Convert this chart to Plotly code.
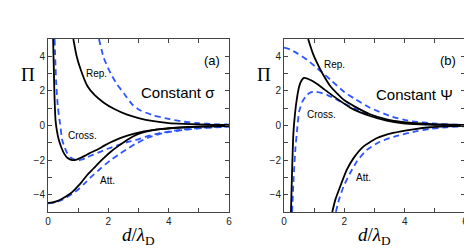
import plotly.graph_objects as go

# ---------------- Panel (a): constant sigma ----------------
a_rep_solid_x = [0.84, 0.95, 1.08, 1.3, 1.55, 1.85, 2.2, 2.6, 3.0, 3.5, 4.0, 4.5, 5.0, 5.5, 6.0]
a_rep_solid_y = [5.0, 4.0, 3.25, 2.3, 1.75, 1.32, 0.95, 0.64, 0.43, 0.25, 0.14, 0.09, 0.06, 0.04, 0.03]
a_rep_dash_x = [1.69, 1.85, 2.08, 2.3, 2.52, 2.8, 3.05, 3.5, 4.0, 4.5, 5.0, 5.5, 6.0]
a_rep_dash_y = [5.0, 3.9, 3.0, 2.35, 1.85, 1.2, 0.88, 0.58, 0.38, 0.22, 0.13, 0.08, 0.05]

a_cross_solid_x = [0.17, 0.21, 0.25, 0.3, 0.36, 0.45, 0.53, 0.65, 0.8, 0.95, 1.1, 1.23, 1.4, 1.63,
                   1.85, 2.08, 2.33, 2.63, 3.0, 3.4, 3.8, 4.3, 5.0, 6.0]
a_cross_solid_y = [5.0, 2.0, 0.3, -0.35, -0.84, -1.3, -1.61, -1.88, -2.0, -1.97, -1.86, -1.74, -1.58, -1.4,
                   -1.18, -0.97, -0.77, -0.58, -0.41, -0.28, -0.19, -0.12, -0.06, -0.02]
a_cross_dash_x = [0.22, 0.27, 0.33, 0.4, 0.47, 0.56, 0.64, 0.75, 0.86, 0.97, 1.1, 1.3, 1.5, 1.75, 2.0,
                  2.3, 2.6, 2.9, 3.3, 3.7, 4.0, 4.5, 5.0, 5.5, 6.0]
a_cross_dash_y = [5.0, 2.5, 1.0, 0.1, -0.84, -1.3, -1.61, -1.85, -1.95, -2.02, -1.98, -1.84, -1.68, -1.51, -1.33,
                  -1.15, -0.98, -0.84, -0.62, -0.44, -0.35, -0.22, -0.14, -0.08, -0.05]

a_att_solid_x = [0, 0.15, 0.3, 0.45, 0.62, 0.8, 0.97, 1.1, 1.3, 1.5, 1.72, 1.9, 2.08, 2.3, 2.55, 2.8,
                 3.02, 3.4, 3.8, 4.3, 5.0, 6.0]
a_att_solid_y = [-4.47, -4.45, -4.37, -4.25, -4.08, -3.85, -3.55, -3.3, -2.86, -2.5, -2.1, -1.8, -1.52, -1.22,
                 -0.92, -0.65, -0.47, -0.3, -0.2, -0.13, -0.07, -0.03]
a_att_dash_x = [0, 0.2, 0.4, 0.6, 0.8, 1.0, 1.2, 1.4, 1.67, 1.9, 2.1, 2.33, 2.6, 2.9, 3.3, 3.71, 4.0,
                4.5, 5.0, 5.5, 6.0]
a_att_dash_y = [-4.5, -4.46, -4.35, -4.17, -3.95, -3.7, -3.37, -3.02, -2.6, -2.25, -1.97, -1.7, -1.38, -1.06,
                -0.72, -0.48, -0.38, -0.26, -0.17, -0.11, -0.07]

# ---------------- Panel (b): constant potential ----------------
b_rep_solid_x = [0.8, 0.95, 1.1, 1.27, 1.55, 1.99, 2.32, 2.85, 3.4, 3.95, 4.5, 5.06, 5.5, 6.0]
b_rep_solid_y = [5.0, 4.2, 3.6, 3.02, 2.24, 1.47, 1.12, 0.65, 0.36, 0.2, 0.12, 0.07, 0.05, 0.03]
b_rep_dash_x = [0, 0.2, 0.44, 0.77, 1.1, 1.55, 1.99, 2.32, 2.85, 3.51, 4.18, 5.06, 5.5, 6.0]
b_rep_dash_y = [4.5, 4.4, 4.17, 3.79, 3.31, 2.63, 1.95, 1.57, 1.03, 0.55, 0.26, 0.1, 0.06, 0.03]

b_cross_solid_x = [0.23, 0.27, 0.31, 0.36, 0.42, 0.5, 0.58, 0.66, 0.75, 0.88, 1.05, 1.22, 1.66, 2.21,
                   2.85, 3.4, 3.95, 4.5, 5.0, 6.0]
b_cross_solid_y = [-5.0, -2.5, -0.5, 0.6, 1.47, 2.24, 2.6, 2.75, 2.73, 2.63, 2.45, 2.24, 1.67, 1.02,
                   0.55, 0.28, 0.13, 0.07, 0.04, 0.02]
b_cross_dash_x = [0.27, 0.32, 0.38, 0.44, 0.5, 0.61, 0.72, 0.83, 0.95, 1.05, 1.2, 1.44, 1.88, 2.32,
                  2.85, 3.4, 4.0, 4.5, 5.0, 6.0]
b_cross_dash_y = [-5.0, -3.0, -1.3, -0.16, 0.8, 1.38, 1.68, 1.86, 1.94, 1.95, 1.9, 1.76, 1.38, 0.99,
                  0.62, 0.33, 0.16, 0.09, 0.05, 0.02]

b_att_solid_x = [1.6, 1.7, 1.86, 2.08, 2.3, 2.63, 3.07, 3.62, 4.29, 4.84, 5.4, 6.0]
b_att_solid_y = [-5.0, -4.3, -3.54, -2.57, -1.9, -1.22, -0.74, -0.43, -0.22, -0.1, -0.05, -0.02]
b_att_dash_x = [1.72, 1.82, 1.97, 2.19, 2.41, 2.74, 3.18, 3.74, 4.4, 4.84, 5.4, 6.0]
b_att_dash_y = [-5.0, -4.3, -3.54, -2.76, -2.09, -1.42, -0.94, -0.6, -0.33, -0.2, -0.1, -0.04]

x_tickvals = [0, 1, 2, 3, 4, 5, 6]
x_ticktext = ["0", "", "2", "", "4", "", "6"]
y_tickvals = [-5, -4, -3, -2, -1, 0, 1, 2, 3, 4, 5]
y_ticktext = ["", "\u22124", "", "\u22122", "", "0", "", "2", "", "4", ""]

BLUE = "rgb(45,85,255)"
fig = go.Figure()


def add(x, y, xa, ya, dashed):
    fig.add_trace(go.Scatter(
        x=x, y=y, xaxis=xa, yaxis=ya, mode="lines",
        line=dict(color=BLUE if dashed else "black", width=1.8,
                  dash="6px,4px" if dashed else "solid", shape="spline", smoothing=0.5),
        showlegend=False, hoverinfo="skip"))


# draw dashed first, solid on top
add(a_rep_dash_x, a_rep_dash_y, "x", "y", True)
add(a_cross_dash_x, a_cross_dash_y, "x", "y", True)
add(a_att_dash_x, a_att_dash_y, "x", "y", True)
add(a_rep_solid_x, a_rep_solid_y, "x", "y", False)
add(a_cross_solid_x, a_cross_solid_y, "x", "y", False)
add(a_att_solid_x, a_att_solid_y, "x", "y", False)

add(b_rep_dash_x, b_rep_dash_y, "x2", "y2", True)
add(b_cross_dash_x, b_cross_dash_y, "x2", "y2", True)
add(b_att_dash_x, b_att_dash_y, "x2", "y2", True)
add(b_rep_solid_x, b_rep_solid_y, "x2", "y2", False)
add(b_cross_solid_x, b_cross_solid_y, "x2", "y2", False)
add(b_att_solid_x, b_att_solid_y, "x2", "y2", False)

axis_common = dict(showgrid=False, zeroline=False, showline=True, linecolor="#444", linewidth=1,
                   mirror="allticks", ticks="inside", ticklen=4, tickcolor="#444", automargin=False,
                   tickfont=dict(family="Liberation Sans, Arial", size=10, color="#222"))

# page has an 8px body margin, so the figure is 464x242 and offset by 8px
W, H, OFF = 464, 242, 8


def px_x(p):
    return (p - OFF) / W


def px_y(p):
    return 1 - (p - OFF) / H


ydom = [px_y(212), px_y(39)]
fig.update_layout(
    width=W, height=H, margin=dict(l=0, r=0, t=0, b=0, autoexpand=False),
    paper_bgcolor="white", plot_bgcolor="white",
    xaxis=dict(domain=[px_x(48), px_x(229)], range=[0, 6], tickvals=x_tickvals, ticktext=x_ticktext,
               anchor="y", **axis_common),
    yaxis=dict(domain=ydom, range=[-5, 5], tickvals=y_tickvals, ticktext=y_ticktext,
               anchor="x", **axis_common),
    xaxis2=dict(domain=[px_x(284), px_x(465)], range=[0, 6], tickvals=x_tickvals, ticktext=x_ticktext,
                anchor="y2", **axis_common),
    yaxis2=dict(domain=ydom, range=[-5, 5], tickvals=y_tickvals, ticktext=y_ticktext,
                anchor="x2", **axis_common),
)

small = dict(family="Liberation Sans, Arial", size=10, color="black")
big = dict(family="Liberation Sans, Arial", size=15, color="black")
serif = dict(family="Liberation Serif, Times New Roman", size=19, color="black")

labels = [
    ("x", "y", 1.62, 3.0, "Rep.", small),
    ("x", "y", 1.13, -0.6, "Cross.", small),
    ("x", "y", 1.96, -3.15, "Att.", small),
    ("x", "y", 4.3, 1.9, "Constant \u03c3", big),
    ("x", "y", 5.44, 3.78, "(a)", dict(big, size=13)),
    ("x2", "y2", 1.67, 3.55, "Rep.", small),
    ("x2", "y2", 1.23, 0.66, "Cross.", small),
    ("x2", "y2", 2.63, -3.0, "Att.", small),
    ("x2", "y2", 4.31, 1.82, "Constant \u03a8", big),
    ("x2", "y2", 5.44, 3.78, "(b)", dict(big, size=13)),
]
for xr, yr, xv, yv, t, f in labels:
    fig.add_annotation(xref=xr, yref=yr, x=xv, y=yv, text=t, showarrow=False, font=f,
                       xanchor="center", yanchor="middle")

# axis titles as paper annotations
for p in [27.5, 263.5]:
    fig.add_annotation(xref="paper", yref="paper", x=px_x(p), y=px_y(74), text="\u03a0",
                       showarrow=False, font=serif, xanchor="center", yanchor="middle")
for p in [138.5, 374.5]:
    fig.add_annotation(xref="paper", yref="paper", x=px_x(p), y=px_y(236),
                       text="<i>d</i>/<i>\u03bb</i><sub>D</sub>", showarrow=False, font=serif,
                       xanchor="center", yanchor="middle")

fig.write_html("out.html")
